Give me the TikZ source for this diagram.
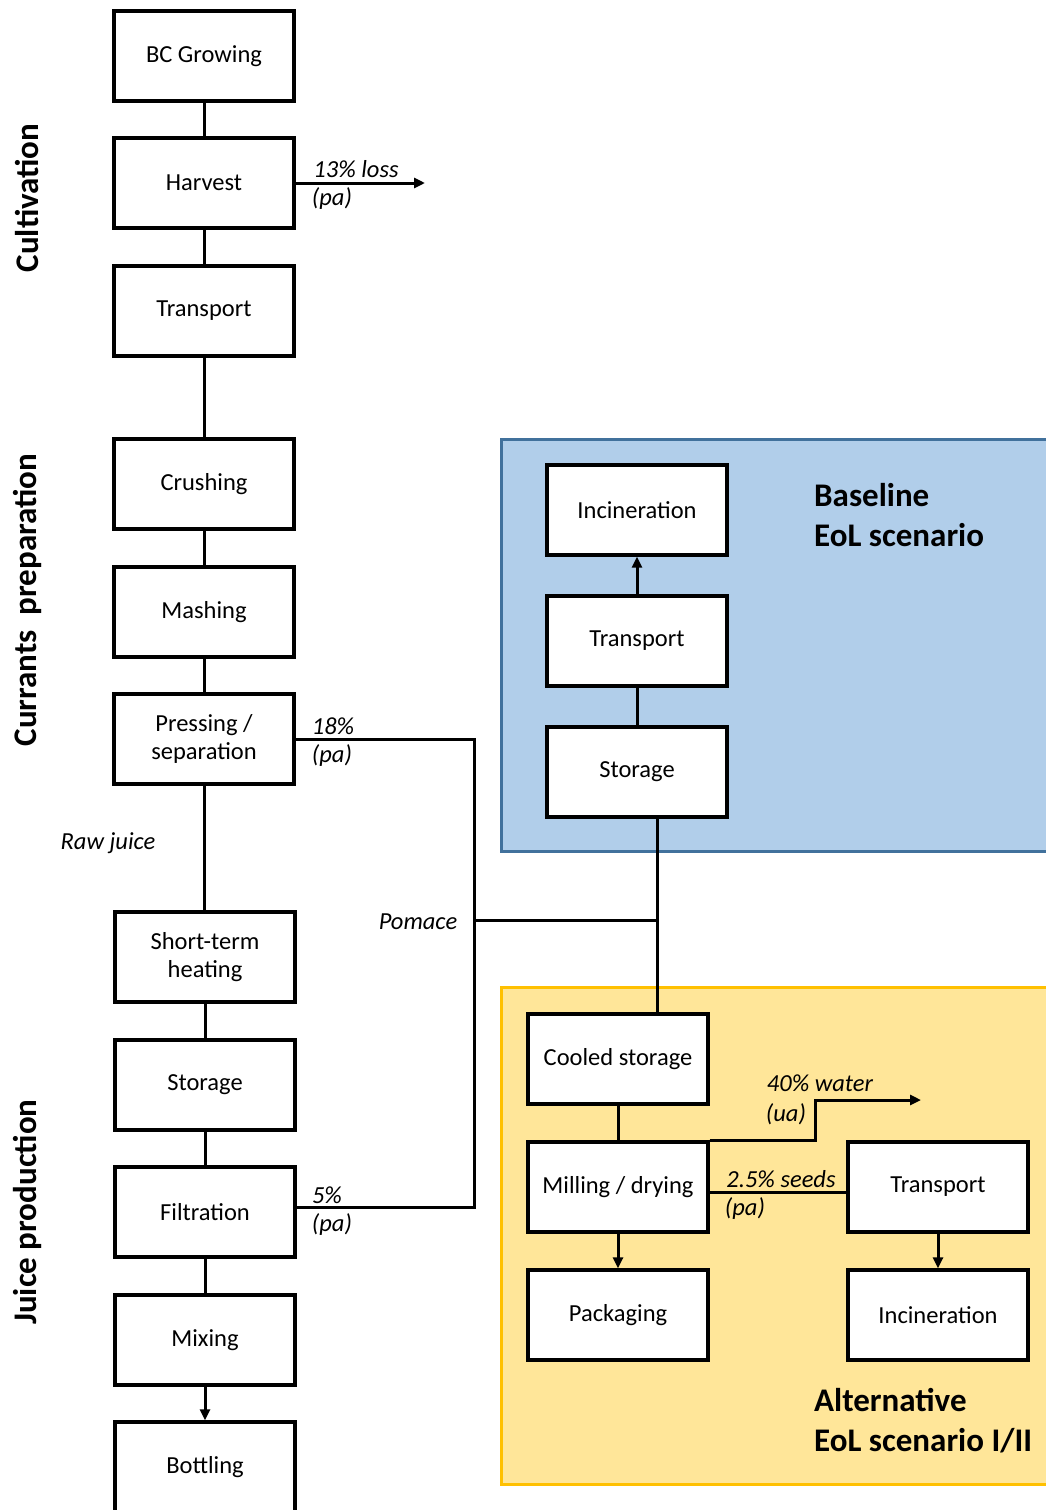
\documentclass[tikz,border=0pt]{standalone}
\usepackage{fontspec}
\setmainfont{Carlito}
\usetikzlibrary{arrows.meta}

\definecolor{baseFill}{RGB}{177,206,234}
\definecolor{baseLine}{RGB}{65,113,156}
\definecolor{altFill}{RGB}{255,230,153}
\definecolor{altLine}{RGB}{255,192,0}

\begin{document}
\begin{tikzpicture}
            [x=1pt, y=-1pt,
             box/.style={draw, line width=3.3pt, fill=white, minimum width=180pt,
                         minimum height=90pt, align=center, font=\fontsize{24.5}{28}\selectfont},
             flow/.style={line width=3pt},
             tip/.style={-{Triangle[length=11pt,width=10pt]}},
             lbl/.style={font=\fontsize{24.5}{28}\selectfont\itshape, inner sep=0pt},
             phase/.style={font=\fontsize{33}{38}\selectfont\bfseries, rotate=90, inner sep=0pt},
             scen/.style={font=\fontsize{33}{40}\selectfont\bfseries, align=left, anchor=west, inner sep=0pt}]
            \useasboundingbox (0,0) rectangle (1046,1510);

            % Scenario areas
            \draw[fill=baseFill, draw=baseLine, line width=3pt] (501,439) rectangle (1052,851);
            \draw[fill=altFill, draw=altLine, line width=3pt] (501,987) rectangle (1052,1484);

            % Phase labels
            \node[phase] (cult) at (27,198) {Cultivation};
            \node[phase] (prep) at (27,600) {Currants\ \ preparation};
            \node[phase] (juice) at (27,1212) {Juice production};

            % Main chain
            \node[box] (grow) at (204,56) {BC Growing};
            \node[box] (harv) at (204,183) {Harvest};
            \node[box] (trans) at (204,311) {Transport};
            \node[box] (crush) at (204,484) {Crushing};
            \node[box] (mash) at (204,612) {Mashing};
            \node[box] (press) at (204,739) {Pressing /\\ separation};
            \node[box] (heat) at (205,957) {Short-term\\ heating};
            \node[box] (store) at (205,1085) {Storage};
            \node[box] (filt) at (205,1212) {Filtration};
            \node[box] (mix) at (205,1340) {Mixing};
            \node[box] (bottle) at (205,1467) {Bottling};

            % Baseline EoL scenario
            \node[box] (binc) at (637,510) {Incineration};
            \node[box] (btrans) at (637,641) {Transport};
            \node[box] (bstore) at (637,772) {Storage};
            \node[scen] (base) at (814,515) {Baseline\\ EoL scenario};

            % Alternative EoL scenario
            \node[box] (cool) at (618,1059) {Cooled storage};
            \node[box] (mill) at (618,1187) {Milling / drying};
            \node[box] (pack) at (618,1315) {Packaging};
            \node[box] (atrans) at (938,1187) {Transport};
            \node[box] (ainc) at (938,1315) {Incineration};
            \node[scen] (alt) at (814,1421) {Alternative\\ EoL scenario I/II};

            % Free ends and bends
            \coordinate (loss) at (425,183);
            \coordinate (pom) at (474,920);
            \coordinate (jn) at (657,920);
            \coordinate (wbend) at (815,1100);
            \coordinate (water) at (921,1100);

            % Main chain connectors
            \draw[flow] (grow) -- (harv);
            \draw[flow] (harv) -- (trans);
            \draw[flow] (trans) -- (crush);
            \draw[flow] (crush) -- (mash);
            \draw[flow] (mash) -- (press);
            \draw[flow] (press.south) -- (press.south |- heat.north);
            \draw[flow] (heat) -- (store);
            \draw[flow] (store) -- (filt);
            \draw[flow] (filt) -- (mix);
            \draw[flow, tip] (mix) -- (bottle);
            \draw[flow, tip] (harv.east) -- (loss);

            % Pomace connectors
            \draw[flow] (press.east) -| (pom) |- ([yshift=5pt]filt.east);
            \draw[flow] (pom) -- (jn);
            \draw[flow] (bstore.south -| jn) -- (cool.north -| jn);

            % Scenario connectors
            \draw[flow] (bstore) -- (btrans);
            \draw[flow, tip] (btrans) -- (binc);
            \draw[flow] (cool) -- (mill);
            \draw[flow, tip] (mill) -- (pack);
            \draw[flow, tip] (atrans) -- (ainc);
            \draw[flow] ([yshift=-5pt]mill.east) -- ([yshift=-5pt]atrans.west);
            \draw[flow, tip] (mill.north east) -| (wbend) -- (water);

            % Flow labels
            \node[lbl] (lossA) at (356,169) {13\% loss};
            \node[lbl] (lossB) at (332,199) {(pa)};
            \node[lbl] (pressA) at (333,726) {18\%};
            \node[lbl] (pressB) at (332,756) {(pa)};
            \node[lbl] (filtA) at (327,1195) {5\%};
            \node[lbl] (filtB) at (332,1225) {(pa)};
            \node[lbl] (raw) at (108,843) {Raw juice};
            \node[lbl] (pomace) at (418,922) {Pomace};
            \node[lbl] (waterA) at (820,1083) {40\% water};
            \node[lbl] (waterB) at (786,1114) {(ua)};
            \node[lbl] (seedA) at (781,1179) {2.5\% seeds};
            \node[lbl] (seedB) at (745,1209) {(pa)};
        \end{tikzpicture}
\end{document}
